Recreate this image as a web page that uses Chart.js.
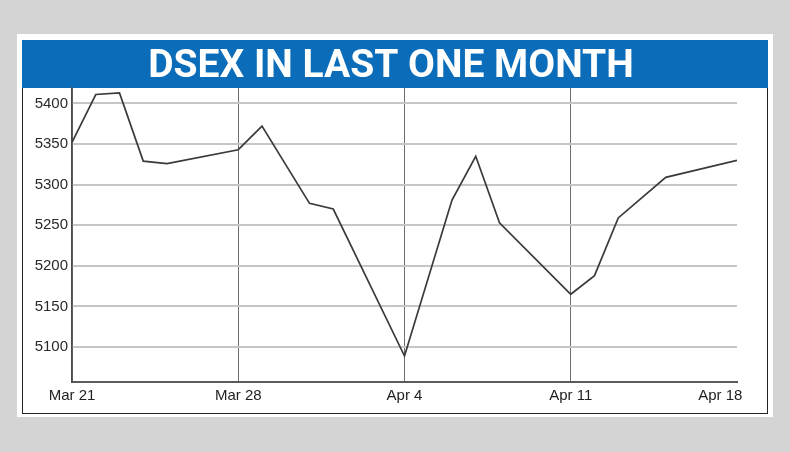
<!DOCTYPE html>
<html lang="en">
<head>
  <meta charset="UTF-8">
  <title>DSEX in last one month</title>
  <script src="https://cdn.jsdelivr.net/npm/chart.js"></script>
  <style>
    body {
      margin: 0;
      width: 790px;
      height: 452px;
      background-color: #d4d4d4;
      font-family: "Liberation Sans", Arial, sans-serif;
      position: relative;
      overflow: hidden;
    }
    .panel {
      position: absolute;
      left: 17px;
      top: 34px;
      width: 756px;
      height: 383px;
      background-color: white;
    }
    .frame {
      position: absolute;
      left: 22px;
      top: 40px;
      width: 746px;
      height: 374px;
      box-sizing: border-box;
      border: 1px solid #222;
      border-top: none;
    }
    canvas {
      position: absolute;
      left: 22px;
      top: 40px;
    }
  </style>
</head>
<body>
  <div class="panel"></div>
  <div class="frame"></div>
  <canvas id="dsexChart" width="746" height="373"></canvas>
  <script>
    // days counted from Mar 21
    const tradeDays = [0, 1, 2, 3, 4, 7, 8, 10, 11, 14, 16, 17, 18, 21, 22, 23, 25, 28];
    const dsexValues = [5352, 5411, 5413, 5329, 5326, 5343, 5372, 5277, 5270, 5089, 5281, 5335, 5253, 5165, 5188, 5259, 5309, 5330];

    const xTickDays = [0, 7, 14, 21, 28];
    const xTickLabels = ['Mar 21', 'Mar 28', 'Apr 4', 'Apr 11', 'Apr 18'];
    const yTicks = [5100, 5150, 5200, 5250, 5300, 5350, 5400];

    // blue band behind the title
    const titleBand = {
      id: 'titleBand',
      beforeDraw(chart) {
        const tb = chart.titleBlock;
        const ctx = chart.ctx;
        ctx.save();
        ctx.fillStyle = '#0b6db9';
        ctx.fillRect(0, tb.top, chart.width, tb.height);
        ctx.restore();
      }
    };

    const points = tradeDays.map((d, i) => ({ x: d, y: dsexValues[i] }));

    new Chart(document.getElementById('dsexChart'), {
      type: 'line',
      data: {
        datasets: [{
          data: points,
          borderColor: '#3a3a3a',
          borderWidth: 1.7,
          pointRadius: 0,
          tension: 0,
          fill: false
        }]
      },
      options: {
        responsive: false,
        animation: false,
        layout: { padding: { left: 0, right: 8, top: 0, bottom: 0 } },
        plugins: {
          legend: { display: false },
          tooltip: { enabled: false },
          title: {
            display: true,
            text: 'DSEX IN LAST ONE MONTH',
            color: 'white',
            font: { family: 'Roboto', weight: 'bold', size: 39, lineHeight: 1.077 },
            padding: { top: 6, bottom: 0 }
          }
        },
        scales: {
          x: {
            type: 'linear',
            min: 0,
            max: 28,
            afterBuildTicks: s => { s.ticks = xTickDays.map(v => ({ value: v })); },
            afterFit: s => { s.paddingLeft = 0; s.paddingRight = 31; s.height = 31; },
            ticks: {
              padding: 5,
              color: '#222',
              font: { family: 'Liberation Sans', size: 15 },
              maxRotation: 0,
              autoSkip: false,
              callback: v => {
                const lbl = xTickLabels[xTickDays.indexOf(v)];
                // last label sits inside the plot edge
                return v === 28 ? lbl + '        ' : lbl;
              }
            },
            grid: {
              drawTicks: false,
              lineWidth: 1,
              color: c => (c.tick && c.tick.value === 28) ? 'rgba(0,0,0,0)' : '#6e6e6e'
            },
            border: { color: '#5a5a5a', width: 2 }
          },
          y: {
            min: 5057,
            max: 5419,
            afterBuildTicks: s => { s.ticks = yTicks.map(v => ({ value: v })); },
            afterFit: s => { s.width = 50; s.paddingTop = 0; s.paddingBottom = 0; },
            ticks: {
              padding: 4,
              color: '#2a2a2a',
              font: { family: 'Liberation Sans', size: 15 },
              callback: v => String(v)
            },
            grid: {
              drawTicks: false,
              lineWidth: 2,
              color: '#c6c6c6'
            },
            border: { color: '#4a4a4a', width: 1.5 }
          }
        }
      },
      plugins: [titleBand]
    });
  </script>
</body>
</html>
